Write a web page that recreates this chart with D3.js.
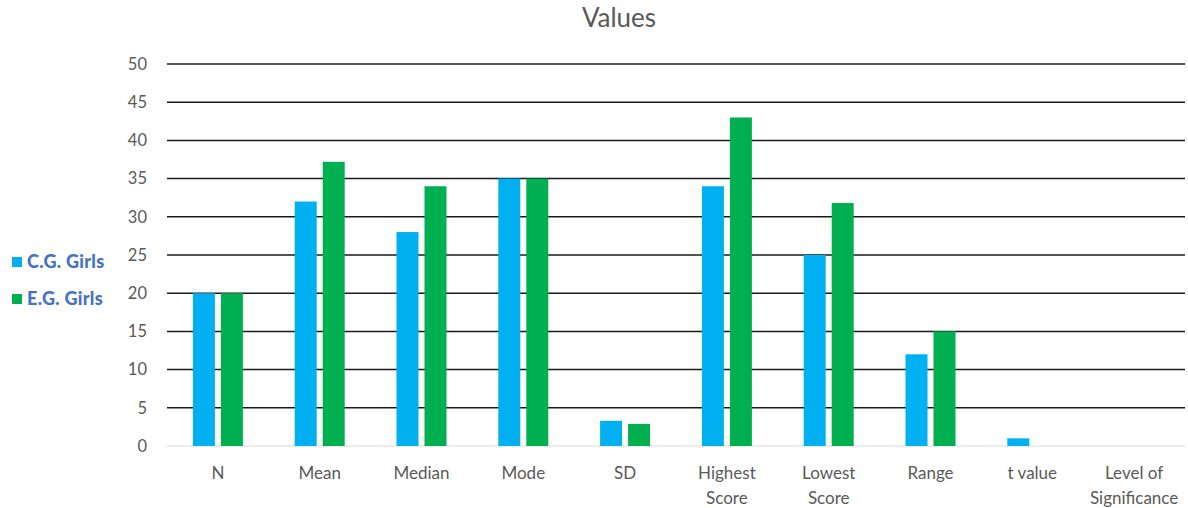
<!DOCTYPE html>
<html><head><meta charset="utf-8">
<script src="https://cdn.jsdelivr.net/npm/d3@7"></script>
<style>body{margin:0;background:#fff;}svg{display:block;font-family:Lato,"Open Sans",sans-serif;}</style>
</head><body><svg id="c" width="1188" height="508"></svg>
<script>
const categories = ["N","Mean","Median","Mode","SD","Highest Score","Lowest Score","Range","t value","Level of Significance"];
const cgGirls = [20,32,28,35,3.3,34,25,12,1.0,0];
const egGirls = [20,37.2,34,35,2.9,43,31.8,15,0,0];
const seriesNames = ["C.G. Girls","E.G. Girls"];
const seriesColors = ["#00B0F0","#00B050"];
const yTicks = [0,5,10,15,20,25,30,35,40,45,50];
const catLines = {"Highest Score":["Highest","Score"],"Lowest Score":["Lowest","Score"],"Level of Significance":["Level of","Significance"]};

const svg = d3.select("#c");
const L=167,R=1185,T=64,B=446;
const x = d3.scaleBand().domain(categories).range([L,R]);
const y = d3.scaleLinear().domain([0,50]).range([B,T]);
const bw = 22, gap = 6;

svg.append("text").attr("x",619).attr("y",27).attr("text-anchor","middle")
  .attr("font-size",26).attr("fill","#595959").text("Values");

const yAxis = svg.append("g").attr("transform",`translate(${L},0)`)
  .call(d3.axisLeft(y).tickValues(yTicks).tickSize(0).tickPadding(20));
yAxis.select(".domain").remove();
yAxis.selectAll("text").attr("font-size",16.5).attr("fill","#595959").attr("font-family","Lato,sans-serif");

svg.append("g").selectAll("line").data(yTicks.filter(d=>d>0)).join("line")
  .attr("x1",L).attr("x2",R).attr("y1",d=>y(d)).attr("y2",d=>y(d))
  .attr("stroke","#1a1a1a").attr("stroke-width",1.5);
svg.append("line").attr("x1",L).attr("x2",R).attr("y1",y(0)).attr("y2",y(0))
  .attr("stroke","#d9d9d9").attr("stroke-width",1);

[cgGirls,egGirls].forEach((vals,si)=>{
  svg.append("g").selectAll("rect").data(vals).join("rect")
    .attr("x",(d,i)=>x(categories[i])+x.bandwidth()/2 + (si===0 ? -gap/2-bw : gap/2))
    .attr("width",bw)
    .attr("y",d=>y(d)).attr("height",d=>y(0)-y(d))
    .attr("fill",seriesColors[si]);
});

const xg = svg.append("g");
categories.forEach(c=>{
  const lines = catLines[c] || [c];
  const t = xg.append("text").attr("x",x(c)+x.bandwidth()/2).attr("y",479)
    .attr("text-anchor","middle").attr("font-size",17).attr("fill","#595959");
  lines.forEach((ln,i)=>t.append("tspan").attr("x",x(c)+x.bandwidth()/2).attr("dy",i?25:0).text(ln));
});

const lg = svg.append("g");
seriesNames.forEach((n,i)=>{
  const yy = 262 + i*37;
  lg.append("rect").attr("x",12).attr("y",yy-5).attr("width",10).attr("height",10).attr("fill",seriesColors[i]);
  lg.append("text").attr("x",27).attr("y",yy+6).attr("font-size",18).attr("font-weight","900")
    .attr("fill","#4472C4").attr("letter-spacing",0.3).text(n);
});
</script></body></html>
